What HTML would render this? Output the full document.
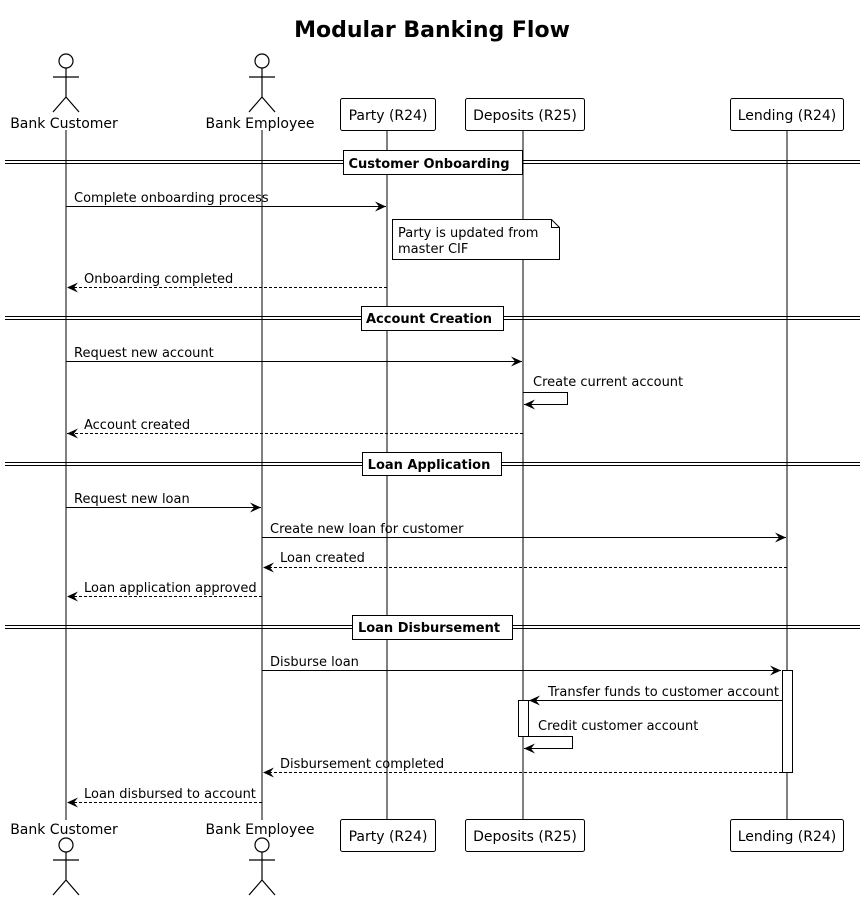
<!DOCTYPE html>
<html><head><style>body{margin:0;background:#fff}svg{display:block}text{font-family:"DejaVu Sans","Liberation Sans",sans-serif;font-size:13px;fill:#000}text.p{font-size:14px}</style></head>
<body>
<svg width="865" height="901" viewBox="0 0 865 901" xmlns="http://www.w3.org/2000/svg">
<defs>
<marker id="a" markerWidth="12" markerHeight="10" refX="11" refY="5" orient="auto" markerUnits="userSpaceOnUse"><path d="M0,0 L11,5 L0,10 L4,5 Z" fill="#000"/></marker>
</defs>
<text x="432" y="37" text-anchor="middle" style="font-size:22px;font-weight:bold">Modular Banking Flow</text>
<g stroke="#000" stroke-width="1" fill="none">
<line x1="66" y1="130" x2="66" y2="820"/><line x1="262" y1="130" x2="262" y2="820"/>
<line x1="387" y1="130" x2="387" y2="820"/><line x1="523" y1="130" x2="523" y2="820"/><line x1="787" y1="130" x2="787" y2="820"/>
</g>
<g stroke="#000" fill="none" stroke-width="1.2">
<circle cx="66" cy="61" r="7" fill="#fff"/><line x1="66" y1="68" x2="66" y2="97"/><line x1="53" y1="77" x2="79" y2="77"/><path d="M53,112 L66,97 L79,112"/>
<circle cx="262" cy="61" r="7" fill="#fff"/><line x1="262" y1="68" x2="262" y2="97"/><line x1="249" y1="77" x2="275" y2="77"/><path d="M249,112 L262,97 L275,112"/>
<circle cx="66" cy="845" r="7" fill="#fff"/><line x1="66" y1="852" x2="66" y2="880"/><line x1="53" y1="860" x2="79" y2="860"/><path d="M53,895 L66,880 L79,895"/>
<circle cx="262" cy="845" r="7" fill="#fff"/><line x1="262" y1="852" x2="262" y2="880"/><line x1="249" y1="860" x2="275" y2="860"/><path d="M249,895 L262,880 L275,895"/>
</g>
<text class="p" x="64" y="128" text-anchor="middle">Bank Customer</text>
<text class="p" x="260" y="128" text-anchor="middle">Bank Employee</text>
<text class="p" x="64" y="834" text-anchor="middle">Bank Customer</text>
<text class="p" x="260" y="834" text-anchor="middle">Bank Employee</text>
<g stroke="#000" fill="#fff" stroke-width="1">
<rect x="340.5" y="98.5" width="95" height="32" rx="2"/><rect x="465.5" y="98.5" width="119" height="32" rx="2"/><rect x="730.5" y="98.5" width="113" height="32" rx="2"/>
<rect x="340.5" y="819.5" width="95" height="32" rx="2"/><rect x="465.5" y="819.5" width="119" height="32" rx="2"/><rect x="730.5" y="819.5" width="113" height="32" rx="2"/>
</g>
<g text-anchor="middle">
<text class="p" x="388" y="120">Party (R24)</text><text class="p" x="525" y="120">Deposits (R25)</text><text class="p" x="787" y="120">Lending (R24)</text>
<text class="p" x="388" y="841">Party (R24)</text><text class="p" x="525" y="841">Deposits (R25)</text><text class="p" x="787" y="841">Lending (R24)</text>
</g>
<g stroke="#000" stroke-width="1" fill="#fff">
<line x1="5" y1="160.5" x2="860" y2="160.5"/><line x1="5" y1="163.5" x2="860" y2="163.5"/><rect x="343.5" y="150.5" width="179" height="24"/>
<line x1="5" y1="316.5" x2="860" y2="316.5"/><line x1="5" y1="319.5" x2="860" y2="319.5"/><rect x="361.5" y="306.5" width="142" height="24"/>
<line x1="5" y1="462.5" x2="860" y2="462.5"/><line x1="5" y1="465.5" x2="860" y2="465.5"/><rect x="362.5" y="452.5" width="139" height="23"/>
<line x1="5" y1="625.5" x2="860" y2="625.5"/><line x1="5" y1="628.5" x2="860" y2="628.5"/><rect x="352.5" y="615.5" width="160" height="24"/>
</g>
<g style="font-weight:bold" text-anchor="middle">
<text x="429" y="168" style="font-weight:bold">Customer Onboarding</text><text x="429" y="323" style="font-weight:bold">Account Creation</text><text x="429" y="469" style="font-weight:bold">Loan Application</text><text x="429" y="632" style="font-weight:bold">Loan Disbursement</text>
</g>
<path d="M392.5,219.5 H551.5 L559.5,227.5 V259.5 H392.5 Z M551.5,219.5 V227.5 H559.5" stroke="#000" fill="#fff"/>
<text x="398" y="237">Party is updated from</text><text x="398" y="253">master CIF</text>
<rect x="782.5" y="670.5" width="10" height="102" stroke="#000" fill="#fff"/>
<rect x="518.5" y="700.5" width="10" height="36" stroke="#000" fill="#fff"/>
<g stroke="#000" stroke-width="1" fill="none" marker-end="url(#a)">
<line x1="66" y1="206.5" x2="386" y2="206.5"/>
<line x1="387" y1="287.5" x2="67" y2="287.5" stroke-dasharray="3,2"/>
<line x1="66" y1="361.5" x2="522" y2="361.5"/>
<path d="M523,392.5 H567.5 V404.5 H524"/>
<line x1="523" y1="433.5" x2="67" y2="433.5" stroke-dasharray="3,2"/>
<line x1="66" y1="507.5" x2="261" y2="507.5"/>
<line x1="262" y1="537.5" x2="786" y2="537.5"/>
<line x1="787" y1="567.5" x2="263" y2="567.5" stroke-dasharray="3,2"/>
<line x1="262" y1="596.5" x2="67" y2="596.5" stroke-dasharray="3,2"/>
<line x1="262" y1="670.5" x2="781" y2="670.5"/>
<line x1="782" y1="700.5" x2="529" y2="700.5"/>
<path d="M528,736.5 H572.5 V748.5 H524"/>
<line x1="782" y1="772.5" x2="263" y2="772.5" stroke-dasharray="3,2"/>
<line x1="262" y1="802.5" x2="67" y2="802.5" stroke-dasharray="3,2"/>
</g>
<text x="74" y="202">Complete onboarding process</text>
<text x="84" y="283">Onboarding completed</text>
<text x="74" y="357">Request new account</text>
<text x="533" y="386">Create current account</text>
<text x="84" y="429">Account created</text>
<text x="74" y="503">Request new loan</text>
<text x="270" y="533">Create new loan for customer</text>
<text x="280" y="562">Loan created</text>
<text x="84" y="592">Loan application approved</text>
<text x="270" y="666">Disburse loan</text>
<text x="548" y="696">Transfer funds to customer account</text>
<text x="538" y="730">Credit customer account</text>
<text x="280" y="768">Disbursement completed</text>
<text x="84" y="798">Loan disbursed to account</text>
</svg>
</body></html>
